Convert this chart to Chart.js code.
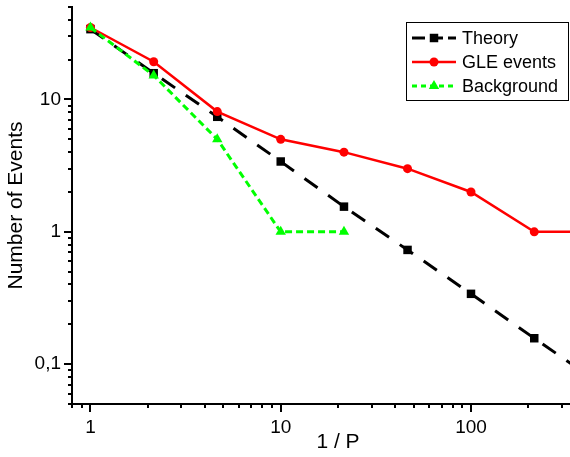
<!DOCTYPE html>
<html><head><meta charset="utf-8">
<script src="https://cdn.jsdelivr.net/npm/chart.js@4/dist/chart.umd.min.js"></script>
<style>
html,body{margin:0;padding:0;background:#fff;overflow:hidden;width:570px;height:457px}
#wrap{position:absolute;left:0;top:0;width:610px;height:457px}
</style>
</head><body><div id="wrap"><canvas id="c" width="610" height="457"></canvas></div>
<script>
// ---- data ----
const invP = [1, 2.15, 4.64, 10, 21.5, 46.4, 100, 215, 464];
const theory = [34, 15.8, 7.4, 3.4, 1.55, 0.73, 0.34, 0.157, 0.073];
const gle = [35, 19.3, 8.1, 5, 4, 3, 2, 1, 1];
const background = [35, 15.2, 5, 1, 1];
const seriesNames = ['Theory', 'GLE events', 'Background'];
const xTicks = [0.8,0.9,1,2,3,4,5,6,7,8,9,10,20,30,40,50,60,70,80,90,100,200,300,400,500];
const xLabels = {1:'1', 10:'10', 100:'100'};
const yTicks = [0.05,0.06,0.07,0.08,0.09,0.1,0.2,0.3,0.4,0.5,0.6,0.7,0.8,0.9,1,2,3,4,5,6,7,8,9,10,20,30,40,50];
const yLabels = {0.1:'0,1', 1:'1', 10:'10'};
const xTitle = '1 / P';
const yTitle = 'Number of Events';

const FONT = 'Liberation Sans, Arial, sans-serif';
const pts = (xs, ys) => ys.map((y, i) => ({x: xs[i], y}));
const isMajor = (map, v) => Object.keys(map).some(k => Math.abs(+k - v) < 1e-9);
const labelOf = (map, v) => { for (const k in map) if (Math.abs(+k - v) < 1e-9) return map[k]; return ''; };

const tickMarks = {
  id: 'tickMarks',
  afterDraw(chart) {
    const ctx = chart.ctx, xs = chart.scales.x, ys = chart.scales.y;
    ctx.save();
    ctx.strokeStyle = '#000';
    ctx.lineWidth = 2;
    ctx.beginPath();
    xTicks.forEach(v => {
      const px = Math.round(xs.getPixelForValue(v));
      const len = isMajor(xLabels, v) ? 8 : 4;
      ctx.moveTo(px, ys.bottom); ctx.lineTo(px, ys.bottom + len);
    });
    yTicks.forEach(v => {
      const py = Math.round(ys.getPixelForValue(v));
      const len = isMajor(yLabels, v) ? 8 : 4;
      ctx.moveTo(xs.left, py); ctx.lineTo(xs.left - len, py);
    });
    ctx.stroke();
    ctx.restore();
  }
};

function drawMarker(ctx, style, x, y, r, color) {
  ctx.fillStyle = color;
  ctx.beginPath();
  if (style === 'rect') {
    const s = r * Math.SQRT1_2;
    ctx.rect(x - s, y - s, 2 * s, 2 * s);
  } else if (style === 'circle') {
    ctx.arc(x, y, r, 0, Math.PI * 2);
  } else if (style === 'triangle') {
    ctx.moveTo(x, y - r);
    ctx.lineTo(x + r * 0.866, y + r * 0.5);
    ctx.lineTo(x - r * 0.866, y + r * 0.5);
    ctx.closePath();
  }
  ctx.fill();
}

const boxLegend = {
  id: 'boxLegend',
  afterDraw(chart) {
    const ctx = chart.ctx;
    const bx = 406, by = 22, bw = 162, bh = 78;
    ctx.save();
    ctx.fillStyle = '#fff';
    ctx.fillRect(bx, by, bw, bh);
    ctx.strokeStyle = '#000';
    ctx.lineWidth = 1;
    ctx.strokeRect(bx + 0.5, by + 0.5, bw, bh);
    chart.data.datasets.forEach((ds, i) => {
      const y = by + 16 + i * 24;
      ctx.strokeStyle = ds.borderColor;
      ctx.lineWidth = ds.borderWidth;
      ctx.setLineDash(ds.legendDash || []);
      ctx.beginPath();
      ctx.moveTo(412, y); ctx.lineTo(456, y);
      ctx.stroke();
      ctx.setLineDash([]);
      drawMarker(ctx, ds.pointStyle, 434, y, ds.pointRadius, ds.pointBackgroundColor);
      ctx.fillStyle = '#000';
      ctx.font = '18px ' + FONT;
      ctx.textBaseline = 'middle';
      ctx.textAlign = 'left';
      ctx.fillText(ds.label, 462, y + 1);
    });
    ctx.restore();
  }
};

const tickFont = {size: 19, family: FONT};
const titleFont = {size: 21, family: FONT};
new Chart(document.getElementById('c'), {
  type: 'line',
  data: {
    datasets: [
      {label: seriesNames[0], data: pts(invP, theory), borderColor: '#000', backgroundColor: '#000',
       pointBackgroundColor: '#000', pointBorderWidth: 0, borderWidth: 3, borderDash: [16, 13], legendDash: [13, 5],
       pointStyle: 'rect', pointRadius: 6, order: 2},
      {label: seriesNames[1], data: pts(invP, gle), borderColor: '#ff0000', backgroundColor: '#ff0000',
       pointBackgroundColor: '#ff0000', pointBorderWidth: 0, borderWidth: 2.5,
       pointStyle: 'circle', pointRadius: 4.5, order: 1},
      {label: seriesNames[2], data: pts(invP, background), borderColor: '#00ff00', backgroundColor: '#00ff00',
       pointBackgroundColor: '#00ff00', pointBorderWidth: 0, borderWidth: 3, borderDash: [7, 4], legendDash: [5, 4],
       pointStyle: 'triangle', pointRadius: 6, order: 0}
    ]
  },
  options: {
    responsive: false,
    animation: false,
    events: [],
    layout: {padding: {top: 7, right: 0, left: 0, bottom: 0}},
    plugins: {legend: {display: false}, tooltip: {enabled: false}},
    scales: {
      x: {
        type: 'logarithmic', min: 0.8, max: 500,
        afterBuildTicks: s => { s.ticks = xTicks.map(v => ({value: v})); },
        afterFit: s => { s.height = 53; s.paddingLeft = 0; s.paddingRight = 0; },
        grid: {display: false, drawTicks: false},
        border: {display: true, color: '#000', width: 2},
        ticks: {autoSkip: false, maxRotation: 0, padding: 12, color: '#000', font: tickFont,
                callback: v => labelOf(xLabels, v)},
        title: {display: true, text: xTitle, color: '#000', font: titleFont, padding: {top: 0, bottom: 2}}
      },
      y: {
        type: 'logarithmic', min: 0.05, max: 50,
        afterBuildTicks: s => { s.ticks = yTicks.map(v => ({value: v})); },
        afterFit: s => { s.width = 72; s.paddingTop = 0; s.paddingBottom = 0; },
        grid: {display: false, drawTicks: false},
        border: {display: true, color: '#000', width: 2},
        ticks: {autoSkip: false, padding: 11, color: '#000', font: tickFont,
                callback: v => labelOf(yLabels, v)},
        title: {display: true, text: yTitle, color: '#000', font: titleFont, padding: {top: 4, bottom: 0}}
      }
    }
  },
  plugins: [tickMarks, boxLegend]
});
</script>
</body></html>
